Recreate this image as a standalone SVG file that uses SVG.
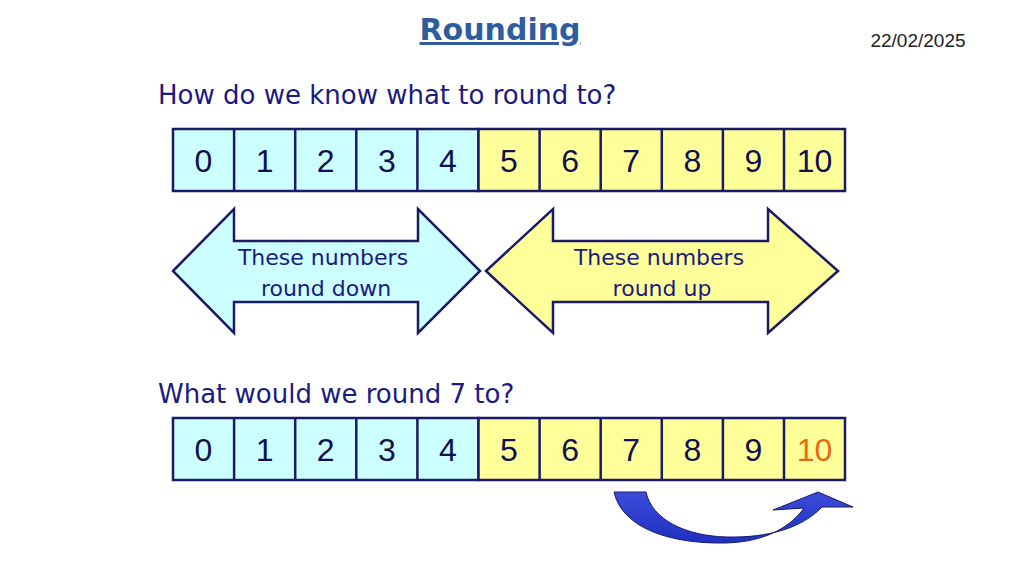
<svg xmlns="http://www.w3.org/2000/svg" width="1024" height="576" viewBox="0 0 1024 576">
<style>
.c{stroke:#1a1a66;stroke-width:2.5}
.b{fill:#ccffff}.y{fill:#ffff99}
.n{font-family:"Liberation Sans",Arial,sans-serif;font-size:32px;fill:#101050;text-anchor:middle}
.t{font-family:"DejaVu Sans",Verdana,sans-serif;font-size:26px;fill:#1a1a80}
.a{font-family:"DejaVu Sans",Verdana,sans-serif;font-size:22px;fill:#1a1a80;text-anchor:middle}
</style>
<rect width="1024" height="576" fill="#fff"/>
<text x="500" y="40" text-anchor="middle" style="font-family:'DejaVu Sans',Verdana,sans-serif;font-size:30px;font-weight:bold;fill:#2e5d9e;text-decoration:underline">Rounding</text>
<text x="918" y="47" text-anchor="middle" style="font-family:'Liberation Sans',Arial,sans-serif;font-size:19px;fill:#222">22/02/2025</text>
<text class="t" x="158" y="104">How do we know what to round to?</text>
<text class="t" x="158" y="403">What would we round 7 to?</text>
<g id="row1">
<rect class="c b" x="173" y="129" width="305.5" height="62"/>
<rect class="c y" x="478.5" y="129" width="366.5" height="62"/>
<path class="c" fill="none" d="M234.1,129V191M295.2,129V191M356.3,129V191M417.4,129V191M539.6,129V191M600.7,129V191M661.8,129V191M722.9,129V191M784,129V191"/>
<g class="n"><text x="203.5" y="172">0</text><text x="264.6" y="172">1</text><text x="325.7" y="172">2</text><text x="386.8" y="172">3</text><text x="447.9" y="172">4</text><text x="509" y="172">5</text><text x="570.1" y="172">6</text><text x="631.2" y="172">7</text><text x="692.3" y="172">8</text><text x="753.4" y="172">9</text><text x="814.5" y="172">10</text></g>
</g>
<g id="row2">
<rect class="c b" x="173" y="418" width="305.5" height="62"/>
<rect class="c y" x="478.5" y="418" width="366.5" height="62"/>
<path class="c" fill="none" d="M234.1,418V480M295.2,418V480M356.3,418V480M417.4,418V480M539.6,418V480M600.7,418V480M661.8,418V480M722.9,418V480M784,418V480"/>
<g class="n"><text x="203.5" y="461">0</text><text x="264.6" y="461">1</text><text x="325.7" y="461">2</text><text x="386.8" y="461">3</text><text x="447.9" y="461">4</text><text x="509" y="461">5</text><text x="570.1" y="461">6</text><text x="631.2" y="461">7</text><text x="692.3" y="461">8</text><text x="753.4" y="461">9</text><text x="814.5" y="461" style="fill:#e86a10">10</text></g>
</g>
<g id="down">
<path class="c b" d="M173,271L234,209V241H418V209L480,271L418,333V302H234V333Z"/>
<text class="a" x="323" y="265">These numbers</text><text class="a" x="326" y="296">round down</text>
</g>
<g id="up">
<path class="c y" d="M486,271L553,209V241H768V209L838,271L768,333V302H553V333Z"/>
<text class="a" x="659" y="265">These numbers</text><text class="a" x="662" y="296">round up</text>
</g>
<g id="connectors">
<defs><linearGradient id="g" x1="0" y1="0" x2="0" y2="1"><stop offset="0" stop-color="#3a4cd8"/><stop offset="1" stop-color="#2030c0"/></linearGradient></defs>
<path d="M614,492C622,528 670,544 725,543C768,542 792,525 804,508L773,510L818,492L853,507L822,507C802,528 768,538 727,537C686,536 652,520 646,492Z" fill="url(#g)" stroke="#1a1a66" stroke-width="1"/>
</g>
</svg>
